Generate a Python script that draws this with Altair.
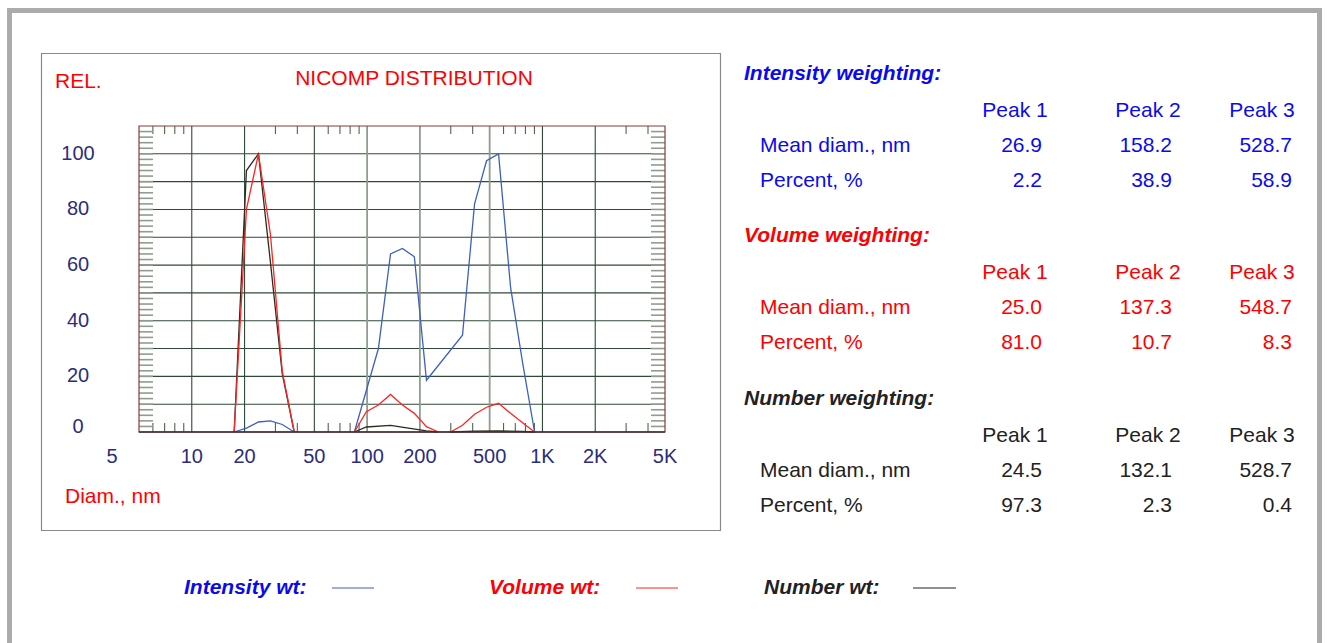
import altair as alt
import pandas as pd

# ---------------- data ----------------
# Peak-1 region (all three weightings share these diameters)
diam_p1 = [17.45, 20.5, 24.0, 28.1, 32.8, 38.4]
int_p1 = [0, 1.4, 3.6, 4.0, 2.7, 0]
vol_p1 = [0, 80, 100, 71, 22, 0]
num_p1 = [0, 94, 100, 61, 21, 0]

# Intensity, peaks 2-3 (one continuous trace)
int_d2 = [84.6, 116, 136, 159, 186, 218, 350, 410, 480, 562, 658, 770, 902]
int_v2 = [0, 30, 64, 66, 63, 18.6, 34.8, 82, 97.5, 100, 52, 25, 0]

# Volume, peak 2 and peak 3
vol_d2 = [84.6, 99, 116, 136, 159, 186, 218, 255]
vol_v2 = [0, 7.3, 9.7, 13.5, 9.7, 6.7, 1.9, 0]
vol_d3 = [299, 350, 410, 480, 562, 658, 770, 902]
vol_v3 = [0, 2.4, 6.4, 8.9, 10.3, 6.7, 3.3, 0]

# Number, peak 2 and peak 3
num_d2 = [84.6, 99, 136, 218, 255]
num_v2 = [0, 1.8, 2.4, 0.4, 0]
num_d3 = [299, 410, 562, 770, 902]
num_v3 = [0, 0.3, 0.4, 0.2, 0]

series_names = ["Intensity", "Volume", "Number"]
series_colors = ["#3d5fc0", "#ff2424", "#2e2a1e"]

grid_dark_x = [10, 20, 50, 1000, 2000]
grid_light_x = [100, 200, 500]
grid_y = [10, 20, 30, 40, 50, 60, 70, 80, 90, 100]
minor_x = [6, 7, 8, 9, 30, 40, 60, 70, 80, 90, 300, 400, 600, 700, 800, 900, 3000, 4000]
minor_y = list(range(2, 110, 2))

xlab_vals = [10, 20, 50, 100, 200, 500, 1000, 2000, 5000]
xlab_text = ["10", "20", "50", "100", "200", "500", "1K", "2K", "5K"]
ylab_vals = [20, 40, 60, 80, 100]

peak_cols = ["Peak 1", "Peak 2", "Peak 3"]
int_mean = ["26.9", "158.2", "528.7"]
int_pct = ["2.2", "38.9", "58.9"]
vol_mean = ["25.0", "137.3", "548.7"]
vol_pct = ["81.0", "10.7", "8.3"]
num_mean = ["24.5", "132.1", "528.7"]
num_pct = ["97.3", "2.3", "0.4"]

# ---------------- layout helpers ----------------
LEFT, TOP = 139, 126
W, H = 526, 306
FONT = "Liberation Sans"
NAVY = "#2b2d7c"
BLUE = "#0a0af0"
RED = "#ff0000"
BLACK = "#222222"
FS = 21

xs = alt.Scale(type="log", domain=[5, 5000], nice=False)
ys = alt.Scale(domain=[0, 110], nice=False, zero=False)
one = alt.Data(values=[{}])


def txt(s, px, py, color, size=FS, align="left", weight="normal", style="normal"):
    return alt.Chart(one).mark_text(
        text=s, font=FONT, fontSize=size, color=color, align=align,
        baseline="middle", fontWeight=weight, fontStyle=style,
    ).encode(x=alt.value(px - LEFT), y=alt.value(py - TOP))


def hline(x1, x2, py, color, width=1.0):
    return alt.Chart(one).mark_rule(color=color, strokeWidth=width).encode(
        x=alt.value(x1 - LEFT), x2=alt.value(x2 - LEFT), y=alt.value(py - TOP))


def box(x1, y1, x2, y2, color, width):
    return alt.Chart(one).mark_rect(filled=False, stroke=color, strokeWidth=width).encode(
        x=alt.value(x1 - LEFT), x2=alt.value(x2 - LEFT),
        y=alt.value(y1 - TOP), y2=alt.value(y2 - TOP))


layers = []
# page frame and chart frame
layers.append(box(9.5, 10.5, 1319.5, 700, "#ababad", 5))
layers.append(box(41.5, 53.5, 720.5, 530.5, "#8a8a8a", 1.2))

# grid
layers.append(alt.Chart(pd.DataFrame({"v": grid_y})).mark_rule(color="#2e4a36", strokeWidth=1.1)
              .encode(y=alt.Y("v:Q", scale=ys, axis=None)))
layers.append(alt.Chart(pd.DataFrame({"v": grid_light_x})).mark_rule(color="#8e9e8e", strokeWidth=1.8)
              .encode(x=alt.X("v:Q", scale=xs, axis=None)))
layers.append(alt.Chart(pd.DataFrame({"v": grid_dark_x})).mark_rule(color="#2e4a36", strokeWidth=1.1)
              .encode(x=alt.X("v:Q", scale=xs, axis=None)))

# minor ticks
mx = pd.DataFrame({"v": minor_x})
my = pd.DataFrame({"v": minor_y})
layers.append(alt.Chart(mx).mark_rule(color="#4e6650", strokeWidth=1.1).encode(
    x=alt.X("v:Q", scale=xs, axis=None), y=alt.value(0), y2=alt.value(8)))
layers.append(alt.Chart(mx).mark_rule(color="#4e6650", strokeWidth=1.1).encode(
    x=alt.X("v:Q", scale=xs, axis=None), y=alt.value(H), y2=alt.value(H - 9)))
layers.append(alt.Chart(my).mark_rule(color="#8e9e8e", strokeWidth=1.6).encode(
    y=alt.Y("v:Q", scale=ys, axis=None), x=alt.value(0), x2=alt.value(14)))
layers.append(alt.Chart(my).mark_rule(color="#8e9e8e", strokeWidth=1.6).encode(
    y=alt.Y("v:Q", scale=ys, axis=None), x=alt.value(W), x2=alt.value(W - 14)))

# curves
rows = []
def add(name, seg, ds, vs):
    for d, v in zip(ds, vs):
        rows.append({"diam": d, "rel": v, "series": name, "seg": name + seg})

add("Intensity", "1", diam_p1, int_p1)
add("Intensity", "2", int_d2, int_v2)
add("Number", "1", diam_p1, num_p1)
add("Number", "2", num_d2, num_v2)
add("Number", "3", num_d3, num_v3)
add("Volume", "1", diam_p1, vol_p1)
add("Volume", "2", vol_d2, vol_v2)
add("Volume", "3", vol_d3, vol_v3)
curves = pd.DataFrame(rows)

for name in ["Intensity", "Number", "Volume"]:
    layers.append(alt.Chart(curves[curves.series == name]).mark_line(strokeWidth=1.3).encode(
        x=alt.X("diam:Q", scale=xs, axis=None),
        y=alt.Y("rel:Q", scale=ys, axis=None),
        color=alt.Color("series:N", scale=alt.Scale(domain=series_names, range=series_colors), legend=None),
        detail="seg:N",
    ))

# plot frame
layers.append(box(LEFT, TOP, LEFT + W, TOP + H, "#8b3a3a", 1.2))
layers.append(hline(LEFT, LEFT + W, TOP + H, "#3a2a2a", 1.3))

# axis labels
layers.append(alt.Chart(pd.DataFrame({"v": xlab_vals, "t": xlab_text})).mark_text(
    font=FONT, fontSize=20, color=NAVY, align="center", baseline="middle").encode(
    x=alt.X("v:Q", scale=xs, axis=None), y=alt.value(457 - TOP), text="t:N"))
layers.append(alt.Chart(pd.DataFrame({"v": [5], "t": ["5"]})).mark_text(
    font=FONT, fontSize=20, color=NAVY, align="center", baseline="middle", dx=-27).encode(
    x=alt.X("v:Q", scale=xs, axis=None), y=alt.value(457 - TOP), text="t:N"))
layers.append(alt.Chart(pd.DataFrame({"v": ylab_vals})).mark_text(
    font=FONT, fontSize=20, color=NAVY, align="center", baseline="middle").encode(
    y=alt.Y("v:Q", scale=ys, axis=None), x=alt.value(78 - LEFT), text="v:Q"))
layers.append(txt("0", 78, 427, NAVY, 20, align="center"))

layers.append(txt("REL.", 55, 82, RED))
layers.append(txt("NICOMP DISTRIBUTION", 414, 79, RED, align="center"))
layers.append(txt("Diam., nm", 65, 497, RED))

# right-hand tables
col_centers = [1015, 1148, 1262]
col_rights = [1042, 1172, 1292]


def table(title, y0, color, mean, pct):
    out = [txt(title, 744, y0, color, weight="bold", style="italic")]
    for c, p in zip(col_centers, peak_cols):
        out.append(txt(p, c, y0 + 37, color, align="center"))
    out.append(txt("Mean diam., nm", 760, y0 + 72, color))
    out.append(txt("Percent, %", 760, y0 + 107, color))
    for r, m, q in zip(col_rights, mean, pct):
        out.append(txt(m, r, y0 + 72, color, align="right"))
        out.append(txt(q, r, y0 + 107, color, align="right"))
    return out


layers += table("Intensity weighting:", 74, BLUE, int_mean, int_pct)
layers += table("Volume weighting:", 236, RED, vol_mean, vol_pct)
layers += table("Number weighting:", 399, BLACK, num_mean, num_pct)

# bottom legend
layers.append(txt("Intensity wt:", 184, 588, BLUE, weight="bold", style="italic"))
layers.append(hline(332, 374, 588, "#3d5fc0", 1.2))
layers.append(txt("Volume wt:", 489, 588, RED, weight="bold", style="italic"))
layers.append(hline(636, 678, 588, "#ff2424", 1.2))
layers.append(txt("Number wt:", 764, 588, BLACK, weight="bold", style="italic"))
layers.append(hline(913, 956, 588, "#222222", 1.2))

chart = alt.layer(*layers).properties(
    width=W, height=H,
    padding={"left": LEFT, "top": TOP, "right": 1327 - LEFT - W, "bottom": 643 - TOP - H},
    autosize=alt.AutoSizeParams(type="none"),
    background="white",
).configure_view(stroke=None)

chart.save("out.html", embed_options={"renderer": "svg", "actions": False})
